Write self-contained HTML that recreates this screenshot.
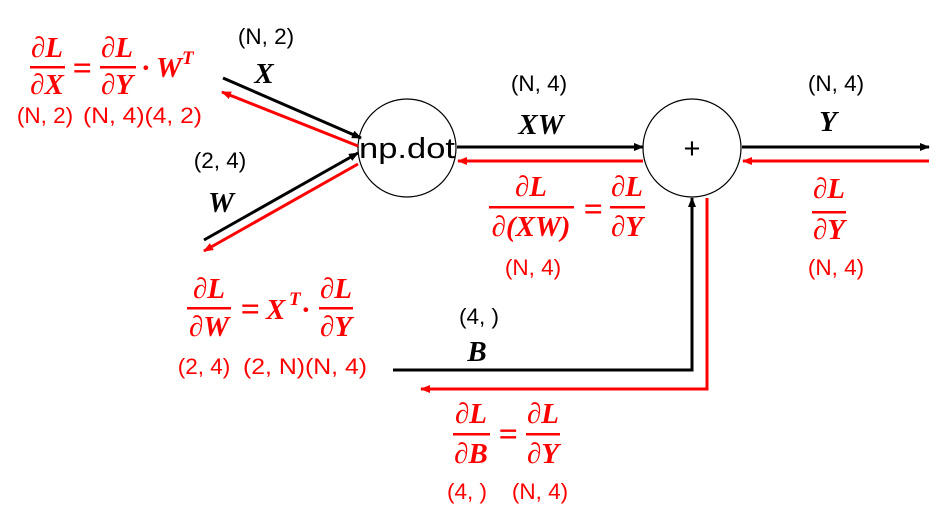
<!DOCTYPE html>
<html><head><meta charset="utf-8"><style>
html,body{margin:0;padding:0;background:#fff;}
svg{display:block}
.m{font-family:"Liberation Serif",serif;font-weight:bold;font-style:italic;font-size:29px;}
.d{font-family:"Liberation Sans","Noto Sans CJK KR",sans-serif;font-size:22.5px;}
.r{fill:#f00}
.k{fill:#000}
.eq{font-family:"Liberation Serif",serif;font-weight:bold;font-size:34px;}
</style></head><body>
<svg width="947" height="513" viewBox="0 0 947 513" xmlns="http://www.w3.org/2000/svg">
<defs>
<marker id="ak" markerWidth="10" markerHeight="8" refX="9" refY="4" orient="auto" markerUnits="userSpaceOnUse"><path d="M0,0 L10,4 L0,8 z" fill="#000"/></marker>
<marker id="ar" markerWidth="10" markerHeight="8" refX="9" refY="4" orient="auto" markerUnits="userSpaceOnUse"><path d="M0,0 L10,4 L0,8 z" fill="#f00"/></marker>
</defs>
<circle cx="407" cy="148" r="49" fill="#fff" stroke="#000" stroke-width="1.2"/>
<text x="407" y="158" text-anchor="middle" font-family="Liberation Sans,sans-serif" font-size="29" textLength="96" lengthAdjust="spacingAndGlyphs">np.dot</text>
<circle cx="692" cy="148" r="49" fill="#fff" stroke="#000" stroke-width="1.2"/>
<text x="692" y="158" text-anchor="middle" font-family="Liberation Sans,sans-serif" font-size="29">+</text>
<line x1="223" y1="78" x2="361" y2="138" stroke="#000" stroke-width="3" marker-end="url(#ak)"/>
<line x1="358" y1="146" x2="222" y2="92" stroke="#f00" stroke-width="3" marker-end="url(#ar)"/>
<line x1="204" y1="240" x2="358" y2="153" stroke="#000" stroke-width="3" marker-end="url(#ak)"/>
<line x1="358" y1="164" x2="204" y2="251" stroke="#f00" stroke-width="3" marker-end="url(#ar)"/>
<line x1="457" y1="147" x2="643" y2="147" stroke="#000" stroke-width="3" marker-end="url(#ak)"/>
<line x1="643" y1="161" x2="458" y2="161" stroke="#f00" stroke-width="3" marker-end="url(#ar)"/>
<line x1="742" y1="147" x2="929" y2="147" stroke="#000" stroke-width="3" marker-end="url(#ak)"/>
<line x1="929" y1="161" x2="743" y2="161" stroke="#f00" stroke-width="3" marker-end="url(#ar)"/>
<polyline points="393,370 692,370 692,198" fill="none" stroke="#000" stroke-width="3" marker-end="url(#ak)"/>
<polyline points="707,198 707,389 421,389" fill="none" stroke="#f00" stroke-width="3" marker-end="url(#ar)"/>

<text class="d k" x="266" y="44" text-anchor="middle">(N, 2)</text>
<text class="m k" x="264" y="83" text-anchor="middle">X</text>
<text class="d k" x="220" y="168" text-anchor="middle">(2, 4)</text>
<text class="m k" x="221" y="212" text-anchor="middle">W</text>
<text class="d k" x="539" y="91" text-anchor="middle">(N, 4)</text>
<text class="m k" x="541" y="134" text-anchor="middle">XW</text>
<text class="d k" x="836" y="91" text-anchor="middle">(N, 4)</text>
<text class="m k" x="828" y="131" text-anchor="middle">Y</text>
<text class="d k" x="479" y="324" text-anchor="middle">(4, )</text>
<text class="m k" x="477" y="361" text-anchor="middle">B</text>

<g class="m r">
<text x="47" y="57" text-anchor="middle">∂L</text>
<text x="47" y="94" text-anchor="middle">∂X</text>
<text class="eq" x="82" y="79" text-anchor="middle">=</text>
<text x="117" y="57" text-anchor="middle">∂L</text>
<text x="117" y="94" text-anchor="middle">∂Y</text>
<text x="142" y="77">· W</text>
<text x="182" y="64" font-size="19">T</text>
</g>
<rect x="30" y="66" width="35" height="2.5" fill="#f00"/>
<rect x="100" y="66" width="36" height="2.5" fill="#f00"/>
<text class="d r" x="45" y="123" text-anchor="middle">(N, 2)</text>
<text class="d r" x="83" y="123" textLength="119" lengthAdjust="spacingAndGlyphs">(N, 4)(4, 2)</text>

<g class="m r">
<text x="209" y="298" text-anchor="middle">∂L</text>
<text x="209" y="336" text-anchor="middle">∂W</text>
<text class="eq" x="250" y="320" text-anchor="middle">=</text>
<text x="266" y="319">X</text>
<text x="289" y="305" font-size="19">T</text>
<text x="302" y="319">·</text>
<text x="336" y="298" text-anchor="middle">∂L</text>
<text x="336" y="336" text-anchor="middle">∂Y</text>
</g>
<rect x="187" y="307" width="44" height="2.5" fill="#f00"/>
<rect x="319" y="307" width="34" height="2.5" fill="#f00"/>
<text class="d r" x="204" y="374" text-anchor="middle">(2, 4)</text>
<text class="d r" x="243" y="374" textLength="124" lengthAdjust="spacingAndGlyphs">(2, N)(N, 4)</text>

<g class="m r">
<text x="531" y="196" text-anchor="middle">∂L</text>
<text x="531" y="236" text-anchor="middle">∂(XW)</text>
<text class="eq" x="593" y="220" text-anchor="middle">=</text>
<text x="627" y="196" text-anchor="middle">∂L</text>
<text x="627" y="236" text-anchor="middle">∂Y</text>
</g>
<rect x="489" y="206" width="85" height="2.5" fill="#f00"/>
<rect x="610" y="206" width="35" height="2.5" fill="#f00"/>
<text class="d r" x="533" y="275" text-anchor="middle">(N, 4)</text>

<g class="m r">
<text x="829" y="198" text-anchor="middle">∂L</text>
<text x="829" y="239" text-anchor="middle">∂Y</text>
</g>
<rect x="812" y="211" width="34" height="2.5" fill="#f00"/>
<text class="d r" x="836" y="275" text-anchor="middle">(N, 4)</text>

<g class="m r">
<text x="471" y="423" text-anchor="middle">∂L</text>
<text x="471" y="463" text-anchor="middle">∂B</text>
<text class="eq" x="508" y="445" text-anchor="middle">=</text>
<text x="543" y="423" text-anchor="middle">∂L</text>
<text x="543" y="463" text-anchor="middle">∂Y</text>
</g>
<rect x="453" y="433" width="37" height="2.5" fill="#f00"/>
<rect x="526" y="433" width="34" height="2.5" fill="#f00"/>
<text class="d r" x="467" y="499" text-anchor="middle">(4, )</text>
<text class="d r" x="540" y="499" text-anchor="middle">(N, 4)</text>
</svg>
</body></html>
